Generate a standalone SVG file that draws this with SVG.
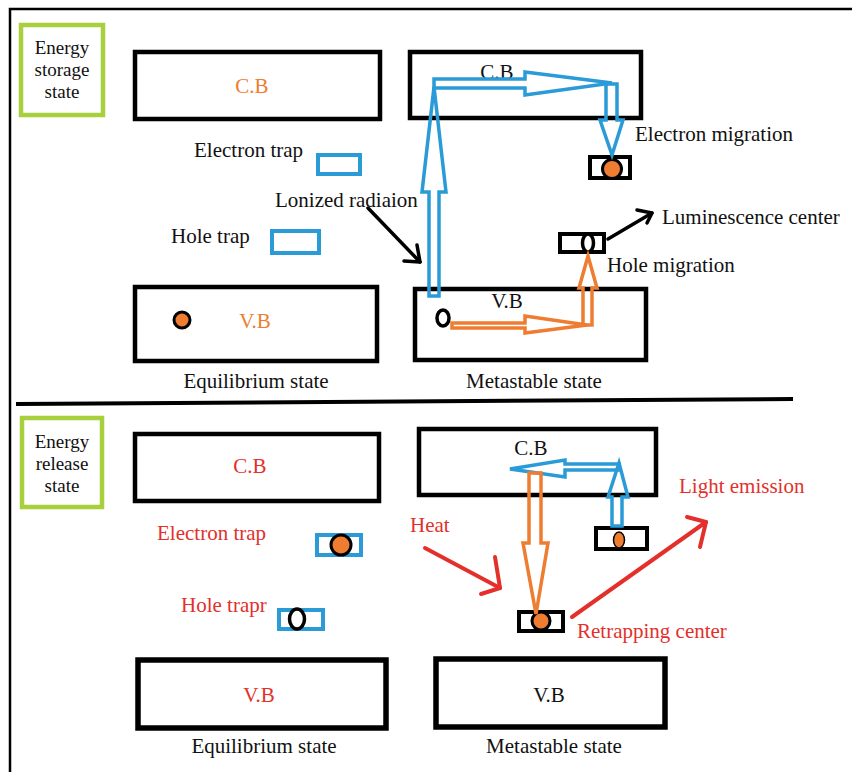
<svg xmlns="http://www.w3.org/2000/svg" width="852" height="772" viewBox="0 0 852 772">
<style>
text{font-family:"Liberation Serif","Times New Roman","DejaVu Serif",serif;font-size:21px;fill:#111}
.band{fill:#fff;stroke:#000;stroke-width:4.5}
.bandb{fill:#fff;stroke:#000;stroke-width:5.5}
.green{fill:#fff;stroke:#A8CF3C;stroke-width:4.5}
.btrap{fill:#fff;stroke:#2A9BD7;stroke-width:4}
.ktrap{fill:#fff;stroke:#000;stroke-width:4}
.edot{fill:#EE7D32;stroke:#000;stroke-width:3}
.hole{fill:#fff;stroke:#000;stroke-width:3.5}
.or{fill:#EE7D32}
.rd{fill:#E3302B}
.bl{fill:none;stroke:#2A9BD7;stroke-width:3.5;stroke-linejoin:miter}
.oa{fill:none;stroke:#EE7D32;stroke-width:3.5;stroke-linejoin:miter}
.ka{fill:none;stroke:#000;stroke-width:3.5;stroke-linecap:round;stroke-linejoin:round}
.ra{fill:none;stroke:#E3302B;stroke-width:4;stroke-linecap:round;stroke-linejoin:round}
.mid{text-anchor:middle}
.gl{font-size:19px}
</style>
<rect x="0" y="0" width="852" height="772" fill="#fff"/>
<g id="frame">
<path d="M10 772 V9 H852" fill="none" stroke="#000" stroke-width="2.5"/>
<line x1="16" y1="404" x2="793" y2="399" stroke="#000" stroke-width="4"/>
</g>
<g id="storage-label">
<rect class="green" x="21" y="25" width="82" height="90"/>
<text class="mid gl" x="62" y="54">Energy</text>
<text class="mid gl" x="62" y="76">storage</text>
<text class="mid gl" x="62" y="98">state</text>
</g>
<g id="eq-cb-top">
<rect class="band" x="135" y="52" width="245" height="67"/>
<text class="mid or" x="252" y="93" font-size="20">C.B</text>
</g>
<g id="eq-etrap-top">
<text x="194" y="157">Electron trap</text>
<rect class="btrap" x="318" y="155" width="42" height="19"/>
</g>
<g id="eq-htrap-top">
<text x="171" y="243">Hole trap</text>
<rect class="btrap" x="272" y="231" width="47" height="22"/>
</g>
<g id="eq-vb-top">
<rect class="band" x="135" y="287" width="242" height="74"/>
<circle class="edot" cx="182" cy="320" r="8"/>
<text class="mid or" x="255" y="328" font-size="20">V.B</text>
</g>
<text class="mid" x="256" y="388">Equilibrium state</text>
<g id="meta-cb-top">
<rect class="band" x="410" y="52" width="231" height="66"/>
<text class="mid" x="497" y="79" font-size="20">C.B</text>
</g>
<g id="meta-vb-top">
<rect class="band" x="415" y="289" width="231" height="71"/>
<text class="mid" x="507" y="308" font-size="20">V.B</text>
<ellipse class="hole" cx="443" cy="318" rx="6" ry="8"/>
</g>
<text class="mid" x="534" y="388">Metastable state</text>
<g id="meta-etrap-top">
<rect class="ktrap" x="590" y="157" width="40" height="21"/>
<circle class="edot" cx="612" cy="169" r="9.5"/>
</g>
<g id="lum-center">
<rect class="ktrap" x="560" y="234" width="44" height="18"/>
<ellipse class="hole" cx="588" cy="243" rx="5.5" ry="9"/>
</g>
<text x="635" y="141">Electron migration</text>
<text x="662" y="224">Luminescence center</text>
<text x="607" y="272">Hole migration</text>
<text x="275" y="207">Lonized radiaion</text>
<g id="release-label">
<rect class="green" x="22" y="418" width="80" height="89"/>
<text class="mid gl" x="62" y="448">Energy</text>
<text class="mid gl" x="62" y="470">release</text>
<text class="mid gl" x="62" y="492">state</text>
</g>
<g id="eq-cb-bot">
<rect class="band" x="135" y="434" width="244" height="67"/>
<text class="mid rd" x="250" y="473" font-size="20">C.B</text>
</g>
<g id="eq-etrap-bot">
<text class="rd" x="157" y="540">Electron trap</text>
<rect class="btrap" x="317" y="535" width="44" height="20"/>
<circle class="edot" cx="341" cy="545" r="10"/>
</g>
<g id="eq-htrap-bot">
<text class="rd" x="181" y="612">Hole trapr</text>
<rect class="btrap" x="279" y="610" width="44" height="19"/>
<ellipse class="hole" cx="297" cy="619" rx="7.5" ry="10"/>
</g>
<g id="eq-vb-bot">
<rect class="bandb" x="138" y="660" width="248" height="68"/>
<text class="mid rd" x="259" y="702" font-size="20">V.B</text>
</g>
<text class="mid" x="264" y="753">Equilibrium state</text>
<g id="meta-cb-bot">
<rect class="band" x="419" y="429" width="237" height="66"/>
<text class="mid" x="531" y="455" font-size="20">C.B</text>
</g>
<g id="meta-etrap-bot">
<rect class="ktrap" x="596" y="528" width="51" height="21"/>
<ellipse cx="619" cy="540" rx="5.5" ry="8" fill="#EE7D32" stroke="#000" stroke-width="1.5"/>
</g>
<g id="retrap-center">
<rect class="ktrap" x="519" y="612" width="44" height="19"/>
<circle class="edot" cx="541" cy="621" r="9"/>
</g>
<g id="meta-vb-bot">
<rect class="bandb" x="436" y="659" width="229" height="68"/>
<text class="mid" x="549" y="702" font-size="20">V.B</text>
</g>
<text class="mid" x="554" y="753">Metastable state</text>
<text class="rd" x="410" y="532">Heat</text>
<text class="rd" x="679" y="493">Light emission</text>
<text class="rd" x="577" y="638">Retrapping center</text>
<g id="connectors">
<polygon class="bl" points="429,296 439,296 439,192 446,192 434,87 422,192 429,192"/>
<polygon class="bl" points="434,79 525,79 525,72 612,83 525,95 525,88 434,88"/>
<polygon class="bl" points="606,84 617,84 617,120 623,120 612,155 600,120 606,120"/>
<polygon class="oa" points="452,323 525,323 525,316 587,325 525,333 525,328 452,328"/>
<polygon class="oa" points="583,325 592,325 592,288 597,288 588,256 579,288 583,288"/>
<polyline class="ka" points="368,208 420,262"/>
<polyline class="ka" points="404,261 420,262 417,245"/>
<polyline class="ka" points="608,239 652,213"/>
<polyline class="ka" points="637,210 652,213 647,223"/>
<polygon class="bl" points="612,526 622,526 622,497 628,497 619,463 608,497 612,497"/>
<polygon class="bl" points="619,464 565,464 565,460 510,469 565,477 565,470 619,470"/>
<polygon class="oa" points="529,473 541,473 541,543 548,543 536,614 523,543 529,543"/>
<polyline class="ra" points="425,548 500,588"/>
<polyline class="ra" points="495,557 500,588 481,594"/>
<polyline class="ra" points="572,617 706,522"/>
<polyline class="ra" points="687,517 706,522 700,547"/>
</g>
</svg>
